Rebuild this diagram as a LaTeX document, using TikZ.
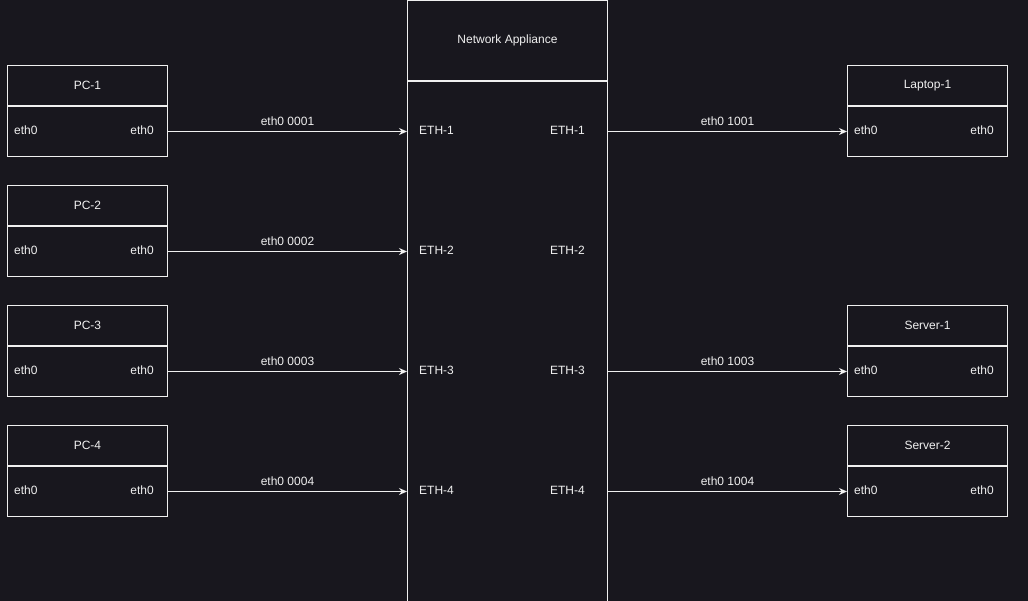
\documentclass[tikz,border=0pt]{standalone}
\usepackage{fontspec}
\setmainfont{Liberation Sans}
\usetikzlibrary{arrows.meta,positioning}
\definecolor{bgc}{RGB}{24,23,30}
\definecolor{fgc}{RGB}{240,240,240}

\begin{document}
\begin{tikzpicture}[x=1pt, y=-1pt,
    head/.style={draw=fgc, line width=1pt, minimum width=160pt, minimum height=40pt, inner sep=0pt, text=fgc, font=\fontsize{12}{14}\selectfont},
    body/.style={draw=fgc, line width=1pt, minimum width=160pt, minimum height=50pt, inner sep=0pt},
    port/.style={text=fgc, font=\fontsize{12}{14}\selectfont, inner sep=0pt},
    arr/.style={-{Stealth[length=8pt, width=7pt]}, draw=fgc, line width=1pt},
    lbl/.style={text=fgc, font=\fontsize{12}{14}\selectfont, inner sep=0pt, above=5pt}
]
\fill[bgc] (0,0) rectangle (1028,601);
\useasboundingbox (0,0) rectangle (1028,601);

\begin{scope}[shift={(0.5,0.5)}]
% network appliance
\node[head, minimum width=200pt, minimum height=80pt] (appH) at (507,40) {Network Appliance};
\node[body, minimum width=200pt, minimum height=520pt, below=0pt of appH] (appB) {};

% left side: PCs
\foreach \i/\y in {1/85, 2/205, 3/325, 4/445} {
  \node[head] (pcH\i) at (87,\y) {PC-\i};
  \node[body, below=0pt of pcH\i] (pcB\i) {};
  \node[port, anchor=west] (pcL\i) at ([xshift=7pt, yshift=1pt]pcB\i.west) {eth0};
  \node[port, anchor=east] (pcR\i) at ([xshift=-14pt, yshift=1pt]pcB\i.east) {eth0};
  \node[port, anchor=west] (ethL\i) at ([xshift=12pt, yshift=1pt]pcB\i.east -| appB.west) {ETH-\i};
  \node[port, anchor=east] (ethR\i) at ([xshift=-23pt, yshift=1pt]pcB\i.east -| appB.east) {ETH-\i};
  \draw[arr] (pcB\i.east) -- node[lbl] {eth0 000\i} (pcB\i.east -| appB.west);
}

% right side: devices
\foreach \i/\y/\name/\code in {1/85/Laptop-1/1001, 3/325/Server-1/1003, 4/445/Server-2/1004} {
  \node[head] (devH\i) at (927,\y) {\name};
  \node[body, below=0pt of devH\i] (devB\i) {};
  \node[port, anchor=west] (devL\i) at ([xshift=7pt, yshift=1pt]devB\i.west) {eth0};
  \node[port, anchor=east] (devR\i) at ([xshift=-14pt, yshift=1pt]devB\i.east) {eth0};
  \draw[arr] (devB\i.west -| appB.east) -- node[lbl] {eth0 \code} (devB\i.west);
}
\end{scope}
\end{tikzpicture}
\end{document}
